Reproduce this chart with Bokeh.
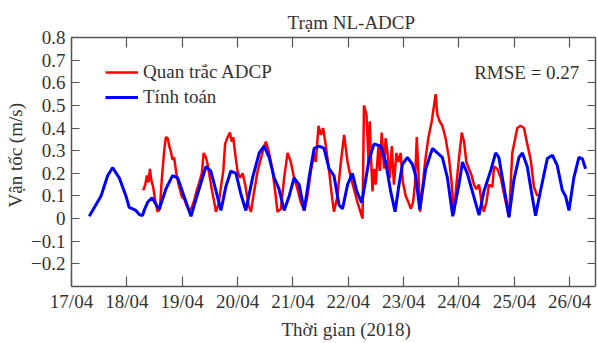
from bokeh.plotting import figure
from bokeh.models import Range1d, LinearAxis, FixedTicker, Label, Legend, LegendItem, Title
from bokeh.embed import file_html
from bokeh.resources import INLINE

# ---------------- data (hours since 17/04/2018 00:00, velocity m/s) ----------------
calc_hours = [7.7, 12.8, 15.7, 17.8, 20.7, 23.6, 25.0, 26.5, 27.9, 29.4, 30.8, 31.5, 33.0, 34.9,
              38.0, 40.9, 43.8, 46.0, 48.9, 51.8, 54.7, 58.3, 60.4, 62.6, 64.8, 66.9, 69.1, 71.3,
              73.4, 75.6, 78.5, 81.4, 83.5, 85.7, 87.9, 90.0, 92.2, 94.4, 96.5, 98.7, 100.9, 103.0,
              105.2, 107.4, 109.5, 111.7, 113.8, 116.0, 117.5, 119.7, 121.8, 123.7, 125.8, 127.2, 129.0,
              131.2, 134.1, 136.2, 138.4, 140.3, 142.0, 143.5, 145.6, 147.8, 149.2, 151.0, 153.6,
              156.5, 158.6, 160.8, 163.0, 165.3, 168.0, 169.5, 171.6, 173.8, 176.7, 178.8, 181.7,
              183.9, 185.3, 187.5, 189.7, 191.8, 194.0, 195.5, 197.6, 199.8, 201.2, 203.4, 206.3,
              208.5, 210.6, 212.8, 214.2, 215.7, 217.8, 220.0, 221.5, 222.9]
calc_values = [0.01, 0.10, 0.19, 0.225, 0.18, 0.10, 0.05, 0.043, 0.036, 0.018, 0.013, 0.036, 0.072, 0.092,
               0.04, 0.13, 0.19, 0.18, 0.095, 0.01, 0.11, 0.23, 0.21, 0.125, 0.036, 0.14, 0.21, 0.20,
               0.11, 0.036, 0.18, 0.29, 0.32, 0.27, 0.18, 0.13, 0.036, 0.10, 0.18, 0.15, 0.036, 0.18,
               0.31, 0.32, 0.31, 0.22, 0.19, 0.06, 0.043, 0.15, 0.20, 0.12, 0.07, 0.15, 0.26,
               0.33, 0.32, 0.25, 0.12, 0.03, 0.15, 0.24, 0.27, 0.24, 0.19, 0.04, 0.22,
               0.31, 0.29, 0.27, 0.18, 0.01, 0.15, 0.25, 0.20, 0.12, 0.015, 0.12, 0.21,
               0.29, 0.27, 0.14, 0.006, 0.17, 0.27, 0.29, 0.23, 0.095, 0.013, 0.125, 0.265,
               0.28, 0.235, 0.125, 0.10, 0.036, 0.18, 0.27, 0.265, 0.22]

obs_hours = [31.1, 32.0, 32.7, 33.4, 34.0, 34.6, 35.4, 36.3, 37.3, 38.3, 39.2, 40.2, 40.9, 41.7, 42.4,
             43.1, 43.8, 44.5, 45.6, 46.7, 47.9, 48.9, 49.9, 51.0, 52.2, 53.2, 54.2, 55.4, 56.5, 57.3,
             58.3, 59.0, 60.0, 60.9, 61.9, 62.6, 63.8, 64.8, 65.8, 66.6, 67.7, 68.7, 69.5, 70.1, 71.3,
             72.0, 73.0, 74.2, 75.3, 76.8, 77.8, 79.2, 80.7, 82.1, 83.5, 84.3, 85.7, 87.2, 88.3, 89.3,
             90.8, 92.2, 93.7, 95.1, 96.5, 98.0, 99.4, 100.9, 102.3, 103.8, 105.2, 105.9, 107.1, 108.1,
             109.1, 110.3, 111.7, 112.9, 113.8, 115.3, 116.8, 118.2, 119.7, 121.1, 122.5, 124.0, 126.2,
             126.8, 127.9, 128.8, 129.3, 129.8, 130.5, 131.2, 131.9, 133.1, 133.7, 134.5, 135.5, 136.2,
             137.0, 138.0, 138.9, 139.8, 140.9, 141.8, 142.7, 143.7, 144.9, 146.1, 147.1, 148.1, 148.9,
             149.7, 150.4, 151.1, 152.1, 153.3, 154.7, 156.2, 157.2, 157.9, 158.6, 159.6, 160.8, 162.2,
             163.7, 164.8, 165.8, 166.9, 168.0, 169.2, 170.2, 171.2, 172.3, 173.5, 174.5, 175.5, 176.7,
             177.8, 178.8, 179.9, 181.0, 182.5, 183.2, 184.6, 186.1, 187.5, 189.7, 191.1, 193.3, 194.7,
             196.2, 197.6, 199.1, 200.5, 202.0]
obs_values = [0.125, 0.15, 0.19, 0.16, 0.22, 0.17, 0.14, 0.08, 0.03, 0.043, 0.18, 0.30, 0.36, 0.355, 0.32,
              0.295, 0.26, 0.27, 0.19, 0.14, 0.095, 0.087, 0.058, 0.036, 0.05, 0.08, 0.12, 0.16, 0.20, 0.29,
              0.27, 0.24, 0.18, 0.125, 0.072, 0.03, 0.065, 0.14, 0.21, 0.33, 0.36, 0.38, 0.34, 0.36, 0.26,
              0.21, 0.18, 0.20, 0.15, 0.058, 0.03, 0.12, 0.21, 0.265, 0.32, 0.34, 0.29, 0.21, 0.12, 0.03,
              0.043, 0.18, 0.29, 0.25, 0.18, 0.13, 0.072, 0.036, 0.10, 0.21, 0.29, 0.25, 0.41, 0.37,
              0.40, 0.32, 0.21, 0.10, 0.03, 0.10, 0.25, 0.37, 0.25, 0.18, 0.13, 0.072, 0.0,
              0.50, 0.46, 0.25, 0.43, 0.29, 0.12, 0.22, 0.15, 0.32, 0.21, 0.38, 0.22, 0.355,
              0.29, 0.18, 0.32, 0.15, 0.29, 0.25, 0.29, 0.16, 0.10, 0.072, 0.043, 0.072, 0.15,
              0.36, 0.21, 0.03, 0.13, 0.25, 0.355, 0.43, 0.50, 0.55, 0.46, 0.43, 0.41, 0.355,
              0.265, 0.16, 0.02, 0.15, 0.265, 0.38, 0.34, 0.25, 0.22, 0.19, 0.15, 0.13, 0.15,
              0.072, 0.03, 0.072, 0.15, 0.14, 0.23, 0.22, 0.18, 0.11, 0.006, 0.29, 0.40, 0.41,
              0.40, 0.33, 0.26, 0.14, 0.10]

day_labels = ["17/04", "18/04", "19/04", "20/04", "21/04", "22/04", "23/04", "24/04", "25/04", "26/04"]
y_ticks = [-0.2, -0.1, 0, 0.1, 0.2, 0.3, 0.4, 0.5, 0.6, 0.7, 0.8]
y_tick_labels = ["\u22120.2", "\u22120.1", "0", "0.1", "0.2", "0.3", "0.4", "0.5", "0.6", "0.7", "0.8"]

series_names = ["Quan tr\u1eafc ADCP", "T\u00ednh to\u00e1n"]
title_text = "Tr\u1ea1m NL-ADCP"
x_label_text = "Th\u1eddi gian (2018)"
y_label_text = "V\u1eadn t\u1ed1c (m/s)"
rmse_text = "RMSE = 0.27"

FONT = "Liberation Serif"
FS = "19px"
TXT = "#333333"
AX = "#555555"

x_ticks = [24 * i for i in range(len(day_labels))]

p = figure(width=597, height=343, output_backend="svg", toolbar_location=None,
           x_range=Range1d(0, 227.2), y_range=Range1d(-0.3, 0.8),
           min_border_left=70, min_border_right=2, min_border_top=37, min_border_bottom=57,
           x_axis_location=None, y_axis_location=None)
p.xgrid.visible = False
p.ygrid.visible = False
p.outline_line_color = None
p.background_fill_color = "white"
p.border_fill_color = "white"


def style_axis(ax, labels=True):
    ax.axis_line_color = AX
    ax.axis_line_width = 1.5
    ax.major_tick_line_color = AX
    ax.major_tick_line_width = 1.2
    ax.major_tick_in = 10
    ax.major_tick_out = 0
    ax.minor_tick_line_color = None
    ax.major_label_text_font = FONT
    ax.major_label_text_font_size = FS
    if labels:
        ax.major_label_text_color = TXT
    else:
        ax.major_label_text_color = None
        ax.major_label_standoff = 0


bottom = LinearAxis(ticker=FixedTicker(ticks=x_ticks),
                    major_label_overrides={t: l for t, l in zip(x_ticks, day_labels)})
style_axis(bottom)
bottom.major_label_standoff = 4
top = LinearAxis(ticker=FixedTicker(ticks=x_ticks))
style_axis(top, labels=False)
top.major_label_standoff = 4
left = LinearAxis(ticker=FixedTicker(ticks=y_ticks),
                  major_label_overrides={t: l for t, l in zip(y_ticks, y_tick_labels)})
style_axis(left)
left.major_tick_in = 8
left.major_label_standoff = 6
right = LinearAxis(ticker=FixedTicker(ticks=y_ticks))
style_axis(right, labels=False)
right.major_tick_in = 8

p.add_layout(bottom, "below")
p.add_layout(top, "above")
p.add_layout(left, "left")
p.add_layout(right, "right")

p.add_layout(Title(text=title_text, align="left", offset=216, standoff=9,
                   text_font=FONT, text_font_size=FS, text_font_style="normal", text_color=TXT), "above")
p.add_layout(Title(text=x_label_text, align="left", offset=210, standoff=4,
                   text_font=FONT, text_font_size=FS, text_font_style="normal", text_color=TXT), "below")
p.add_layout(Title(text=y_label_text, align="left", offset=79, standoff=5,
                   text_font=FONT, text_font_size=FS, text_font_style="normal", text_color=TXT), "left")

r_obs = p.line(obs_hours, obs_values, line_color="#ff0000", line_width=2.5)
r_calc = p.line(calc_hours, calc_values, line_color="#0000ff", line_width=3)

legend = Legend(items=[LegendItem(label=series_names[0], renderers=[r_obs]),
                       LegendItem(label=series_names[1], renderers=[r_calc])],
                location=(34, 178), orientation="vertical",
                label_text_font=FONT, label_text_font_size=FS, label_text_color=TXT,
                glyph_width=33, glyph_height=20, label_height=20, spacing=3,
                padding=0, margin=0, label_standoff=5,
                border_line_color=None, background_fill_alpha=0)
p.add_layout(legend)

p.add_layout(Label(x=220.2, y=0.645, text=rmse_text, text_align="right", text_baseline="middle",
                   text_font=FONT, text_font_size=FS, text_color=TXT))

open("out.html", "w").write(file_html(p, INLINE))
